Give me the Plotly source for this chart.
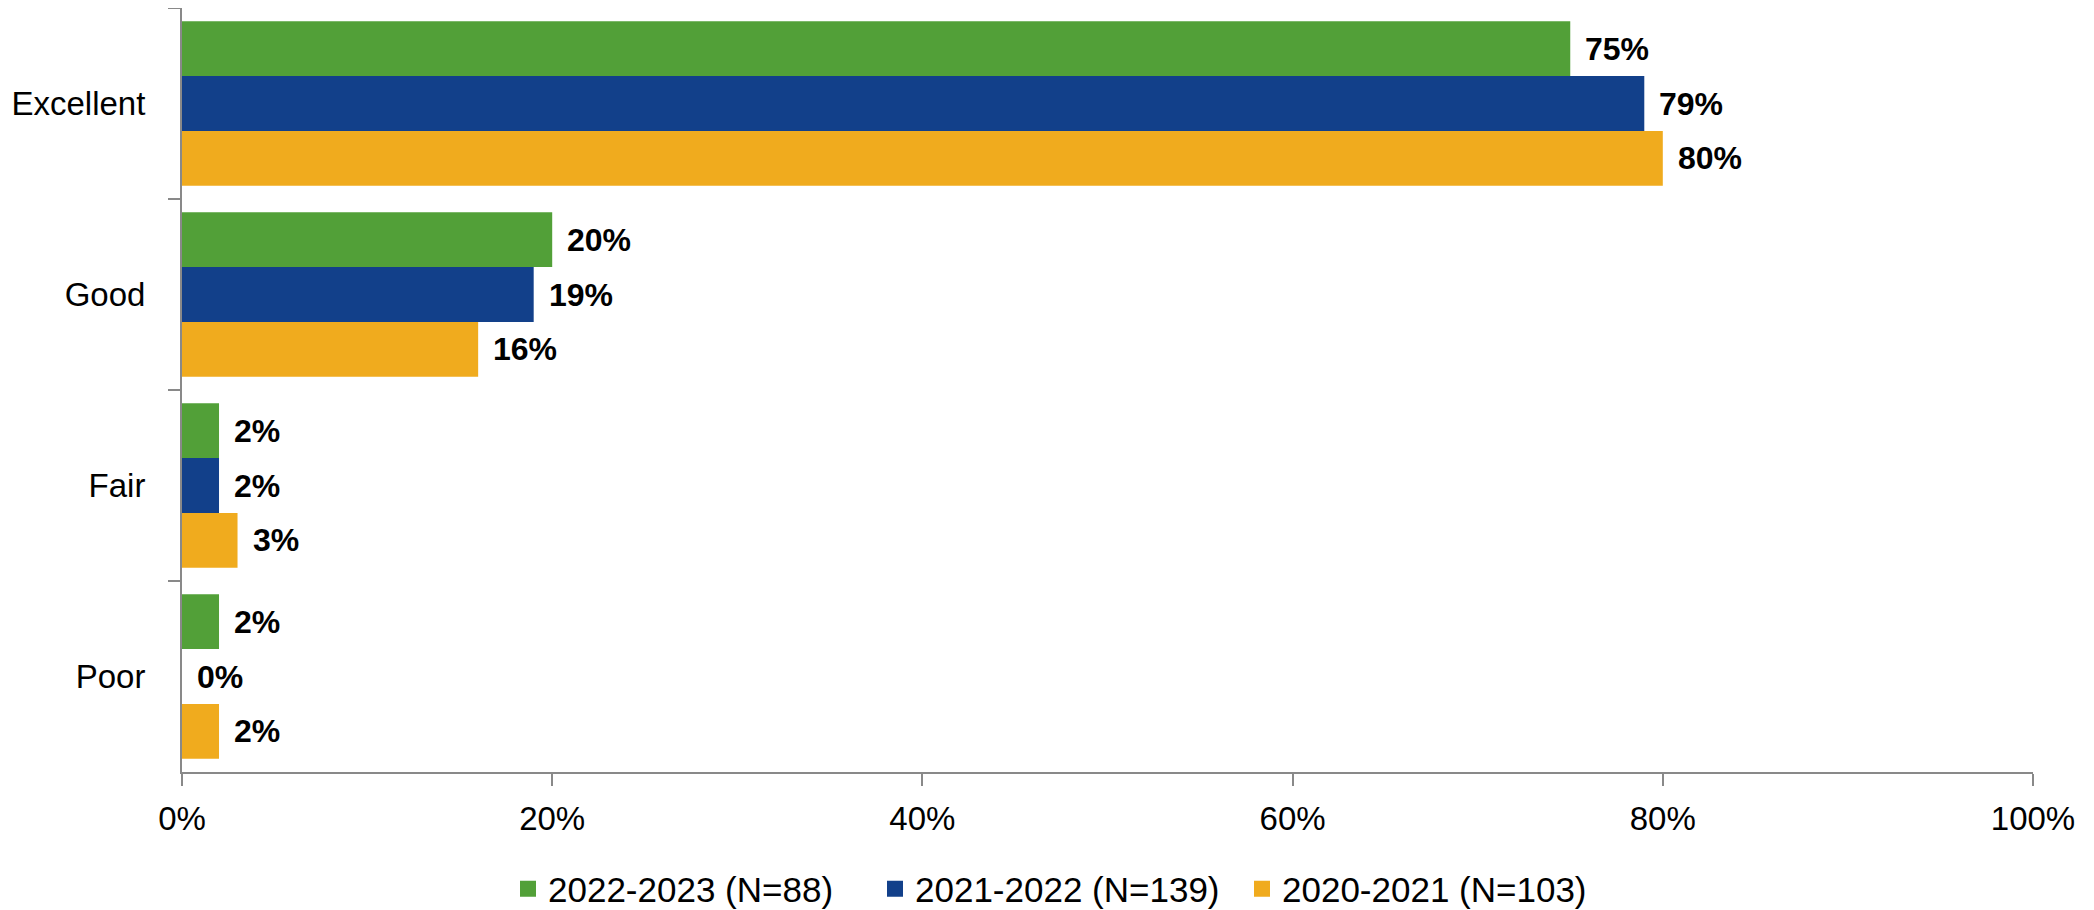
import plotly.graph_objects as go

categories = ["Excellent", "Good", "Fair", "Poor"]
series_names = ["2022-2023 (N=88)", "2021-2022 (N=139)", "2020-2021 (N=103)"]
values_2022_2023 = [75, 20, 2, 2]
values_2021_2022 = [79, 19, 2, 0]
values_2020_2021 = [80, 16, 3, 2]
colors = ["#52A038", "#12408A", "#F0AB1E"]
x_ticks = [0, 20, 40, 60, 80, 100]
x_tick_labels = ["0%", "20%", "40%", "60%", "80%", "100%"]

FONT = "Liberation Sans"
# page has an 8px body margin, so the figure is offset by 8px
W, H = 2086, 902
L, R, T, B = 174, 61, 0, 138
BARGAP = 0.14

fig = go.Figure()
all_series = [values_2022_2023, values_2021_2022, values_2020_2021]
for name, vals, col in zip(series_names, all_series, colors):
    fig.add_trace(go.Bar(
        y=categories, x=vals, name=name, orientation="h",
        marker=dict(color=col, line=dict(width=0)),
        showlegend=False, hoverinfo="x+y",
    ))
    # legend entry with a larger square swatch
    fig.add_trace(go.Scatter(
        x=[None], y=[None], mode="markers", name=name,
        marker=dict(symbol="square", size=19, color=col),
        showlegend=True,
    ))

# data labels as annotations anchored at bar ends
group_width = 1 - BARGAP
bar_w = group_width / 3
for si, vals in enumerate(all_series):
    offset = -group_width / 2 + bar_w * (si + 0.5)
    for ci, v in enumerate(vals):
        fig.add_annotation(
            x=v, y=ci + offset, xref="x", yref="y",
            text=f"<b>{v}%</b>", showarrow=False,
            xanchor="left", yanchor="middle", xshift=13,
            font=dict(family=FONT, size=32, color="black"),
        )

fig.update_layout(
    width=W, height=H,
    barmode="group", bargap=BARGAP, bargroupgap=0,
    plot_bgcolor="white", paper_bgcolor="white",
    margin=dict(l=L, r=R, t=T, b=B, autoexpand=False),
    font=dict(family=FONT, size=33, color="black"),
    legend=dict(orientation="h", x=(500 - L) / (W - L - R), xanchor="left",
                y=-(881 - (H - B)) / (H - T - B), yanchor="middle",
                font=dict(family=FONT, size=35), traceorder="normal",
                entrywidth=322, entrywidthmode="pixels", itemwidth=30),
    xaxis=dict(range=[0, 100], tickvals=x_ticks, ticktext=x_tick_labels,
               showgrid=False, zeroline=False, showline=True, linecolor="#898989", linewidth=2,
               ticks="outside", ticklen=12, tickcolor="#898989", tickwidth=2,
               ticklabelstandoff=4, automargin=False),
    yaxis=dict(type="category", range=[3.5, -0.5], showgrid=False, zeroline=False, showline=True,
               linecolor="#898989", linewidth=2, ticks="outside", ticklen=12,
               tickcolor="#898989", tickwidth=2, tickson="boundaries", ticklabelstandoff=28,
               automargin=False),
)
fig.write_html("out.html")
